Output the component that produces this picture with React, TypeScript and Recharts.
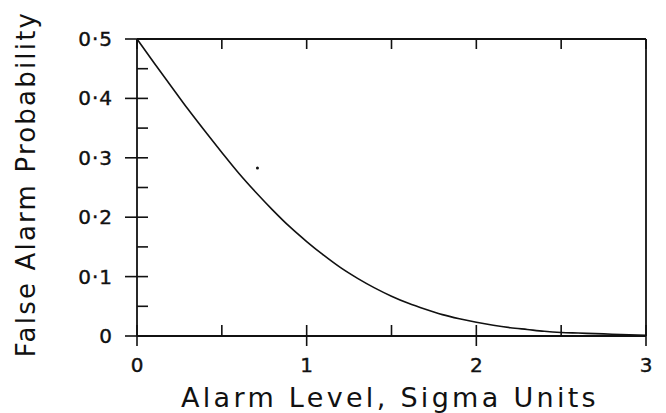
import React from "react";
import { LineChart, Line, XAxis, YAxis, ReferenceDot } from "recharts";

// Alarm level (sigma units) and false alarm probability.
const alarmLevels = [
  0, 0.1, 0.2, 0.3, 0.4, 0.5, 0.6, 0.7, 0.8, 0.9, 1.0, 1.1, 1.2, 1.3, 1.4, 1.5,
  1.6, 1.7, 1.8, 1.9, 2.0, 2.1, 2.2, 2.3, 2.4, 2.5, 2.6, 2.7, 2.8, 2.9, 3.0,
];
const falseAlarmProb = [
  0.5, 0.46, 0.421, 0.382, 0.345, 0.309, 0.274, 0.242, 0.212, 0.184, 0.159,
  0.136, 0.115, 0.097, 0.081, 0.067, 0.055, 0.045, 0.036, 0.029, 0.023, 0.018,
  0.014, 0.011, 0.008, 0.006, 0.005, 0.004, 0.003, 0.002, 0.001,
];

const xTicks = [0, 0.5, 1, 1.5, 2, 2.5, 3];
const yTicks = [0, 0.05, 0.1, 0.15, 0.2, 0.25, 0.3, 0.35, 0.4, 0.45, 0.5];
const xMajor = [0, 1, 2, 3];

// stray speck on the original scan
const speck = { x: 0.71, y: 0.283 };

const data = alarmLevels.map((x, i) => ({ x, p: falseAlarmProb[i] }));

const FONT = "'DejaVu Sans', sans-serif";
const INK = "#111";

const isTenth = (v: number) => Math.abs(v * 10 - Math.round(v * 10)) < 1e-6;
const fmtY = (v: number) => (v === 0 ? "0" : v.toFixed(1).replace(".", "\u00b7"));

const LeftTick = (props: any) => {
  const { x, y, payload } = props;
  const v = payload.value as number;
  const major = isTenth(v);
  return (
    <g>
      <line x1={major ? x - 12 : x} x2={x + 11} y1={y} y2={y} stroke={INK} strokeWidth={1.6} />
      {major && (
        <text
          x={x - 24}
          y={y}
          textAnchor="end"
          dominantBaseline="central"
          fontSize={20}
          letterSpacing={1}
          fontFamily={FONT}
          fill={INK}
          stroke={INK}
          strokeWidth={0.4}
        >
          {fmtY(v)}
        </text>
      )}
    </g>
  );
};

const RightTick = (props: any) => {
  const { x, y } = props;
  return <line x1={x - 11} x2={x} y1={y} y2={y} stroke={INK} strokeWidth={1.6} />;
};

const BottomTick = (props: any) => {
  const { x, y, payload } = props;
  const v = payload.value as number;
  const major = xMajor.includes(v);
  return (
    <g>
      <line x1={x} x2={x} y1={y - 11} y2={major ? y + 10 : y} stroke={INK} strokeWidth={1.6} />
      {major && (
        <text
          x={x}
          y={y + 29}
          textAnchor="middle"
          dominantBaseline="central"
          fontSize={20}
          fontFamily={FONT}
          fill={INK}
          stroke={INK}
          strokeWidth={0.4}
        >
          {String(v)}
        </text>
      )}
    </g>
  );
};

const TopTick = (props: any) => {
  const { x, y } = props;
  return <line x1={x} x2={x} y1={y} y2={y + 10} stroke={INK} strokeWidth={1.6} />;
};

export default function App() {
  return (
    <div style={{ position: "absolute", left: 0, top: 0, width: 666, height: 413, background: "#fff" }}>
      <LineChart width={666} height={413} data={data} margin={{ top: 29, right: 10, bottom: 47, left: 77 }}>
        <XAxis
          xAxisId="b"
          dataKey="x"
          type="number"
          domain={[0, 3]}
          ticks={xTicks}
          interval={0}
          height={30}
          tickSize={0}
          tickMargin={0}
          tick={<BottomTick />}
          axisLine={{ stroke: INK, strokeWidth: 1.8 }}
          tickLine={false}
        />
        <XAxis
          xAxisId="t"
          orientation="top"
          dataKey="x"
          type="number"
          domain={[0, 3]}
          ticks={xTicks}
          interval={0}
          height={10}
          tickSize={0}
          tickMargin={0}
          tick={<TopTick />}
          axisLine={{ stroke: INK, strokeWidth: 1.8 }}
          tickLine={false}
        />
        <YAxis
          yAxisId="l"
          type="number"
          domain={[0, 0.5]}
          ticks={yTicks}
          interval={0}
          width={60}
          tickSize={0}
          tickMargin={0}
          tick={<LeftTick />}
          axisLine={{ stroke: INK, strokeWidth: 1.8 }}
          tickLine={false}
        />
        <YAxis
          yAxisId="r"
          orientation="right"
          type="number"
          domain={[0, 0.5]}
          ticks={yTicks}
          interval={0}
          width={10}
          tickSize={0}
          tickMargin={0}
          tick={<RightTick />}
          axisLine={{ stroke: INK, strokeWidth: 1.8 }}
          tickLine={false}
        />
        <Line
          xAxisId="b"
          yAxisId="l"
          type="monotone"
          dataKey="p"
          stroke={INK}
          strokeWidth={1.6}
          dot={false}
          isAnimationActive={false}
        />
        <ReferenceDot xAxisId="b" yAxisId="l" x={speck.x} y={speck.y} r={1.5} fill={INK} stroke="none" />
      </LineChart>
      <div
        style={{
          position: "absolute",
          left: 390,
          top: 397,
          transform: "translate(-50%, -50%)",
          whiteSpace: "nowrap",
          fontFamily: FONT,
          fontSize: 27,
          letterSpacing: 3.3,
          color: INK,
        }}
      >
        Alarm Level, Sigma Units
      </div>
      <div
        style={{
          position: "absolute",
          left: 26,
          top: 184,
          transform: "translate(-50%, -50%) rotate(-90deg)",
          whiteSpace: "nowrap",
          fontFamily: FONT,
          fontSize: 26,
          letterSpacing: 2.2,
          color: INK,
        }}
      >
        False Alarm Probability
      </div>
    </div>
  );
}
